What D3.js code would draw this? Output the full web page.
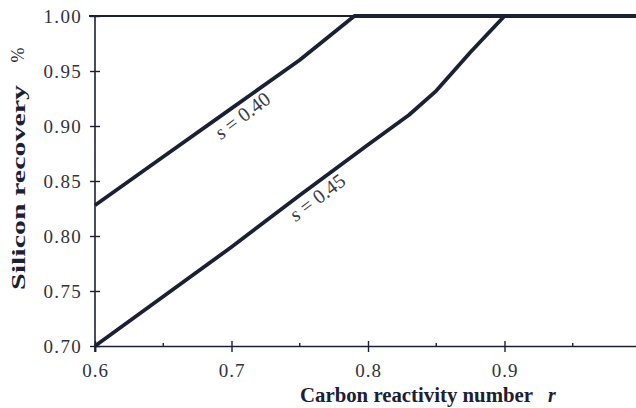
<!DOCTYPE html>
<html>
<head>
<meta charset="utf-8">
<script src="https://cdn.jsdelivr.net/npm/d3@7"></script>
<style>
  html, body { margin: 0; padding: 0; background: #fff; }
  svg { display: block; }
  svg text { font-family: "Liberation Serif", "Times New Roman", Tinos, "Nimbus Roman", Times, serif; }
</style>
</head>
<body>
<svg id="chart" width="636" height="408"></svg>
<script>
// Carbon reactivity number r
const rS40 = [0.60, 0.65, 0.70, 0.75, 0.79, 1.00];
// Silicon recovery for s = 0.40
const recS40 = [0.828, 0.872, 0.916, 0.960, 1.000, 1.000];

const rS45 = [0.60, 0.65, 0.70, 0.75, 0.80, 0.83, 0.85, 0.875, 0.90, 1.00];
// Silicon recovery for s = 0.45
const recS45 = [0.700, 0.745, 0.790, 0.837, 0.883, 0.910, 0.932, 0.967, 1.000, 1.000];

const xTicks = [0.6, 0.7, 0.8, 0.9];
const xMinorTicks = [0.65, 0.75, 0.85, 0.95];
const yTicks = [0.70, 0.75, 0.80, 0.85, 0.90, 0.95, 1.00];

const curveLabels = [
  { s: "0.40", r: 0.7026, rs: rS40, rec: recS40 },
  { s: "0.45", r: 0.7575, rs: rS45, rec: recS45 }
];

const ink = "#1c2033";
const svg = d3.select("#chart");

const x = d3.scaleLinear().domain([0.6, 1.0]).range([95, 641]);
const y = d3.scaleLinear().domain([0.70, 1.00]).range([346, 16]);

// top frame line at 100 %
svg.append("line")
  .attr("x1", x(0.6) - 6).attr("x2", 636)
  .attr("y1", y(1.0)).attr("y2", y(1.0))
  .attr("stroke", ink).attr("stroke-width", 2.2);

// x axis
const xAxis = svg.append("g")
  .attr("transform", `translate(0,${y(0.70)})`)
  .call(d3.axisBottom(x).tickValues(xTicks).tickFormat(d3.format(".1f")).tickSize(6).tickPadding(12));
xAxis.attr("font-family", null);
xAxis.select(".domain").attr("stroke", ink).attr("stroke-width", 1.6);
xAxis.selectAll(".tick line").attr("y1", -5).attr("stroke", ink).attr("stroke-width", 1.4);
xAxis.selectAll(".tick text")
  .attr("font-size", 19).attr("fill", "#30333f")
  .style("letter-spacing", "1px");

// minor ticks on x axis
svg.append("g").selectAll("line").data(xMinorTicks).join("line")
  .attr("x1", d => x(d)).attr("x2", d => x(d))
  .attr("y1", y(0.70)).attr("y2", y(0.70) - 3)
  .attr("stroke", ink).attr("stroke-width", 1.4);

// y axis
const yAxis = svg.append("g")
  .attr("transform", `translate(${x(0.6)},0)`)
  .call(d3.axisLeft(y).tickValues(yTicks).tickFormat(d3.format(".2f")).tickSize(5).tickPadding(8));
yAxis.attr("font-family", null);
yAxis.select(".domain").attr("stroke", ink).attr("stroke-width", 1.6)
  .attr("d", `M0,${y(1.0)}V${y(0.70) + 6}`);
yAxis.selectAll(".tick line").attr("x1", 5).attr("stroke", ink).attr("stroke-width", 1.4);
yAxis.selectAll(".tick text")
  .attr("font-size", 19).attr("fill", "#30333f")
  .style("letter-spacing", "1.3px");

// recovery curves
const line = d3.line().x(d => x(d[0])).y(d => y(d[1]));
[[rS40, recS40], [rS45, recS45]].forEach(([rs, rec]) => {
  svg.append("path")
    .datum(rs.map((r, i) => [r, rec[i]]))
    .attr("d", line)
    .attr("fill", "none")
    .attr("stroke", ink)
    .attr("stroke-width", 3.8)
    .attr("stroke-linejoin", "round");
});

// curve labels, set along each line
curveLabels.forEach(c => {
  const v = d3.scaleLinear().domain(c.rs).range(c.rec)(c.r);
  const t = svg.append("text")
    .attr("transform", `translate(${x(c.r)},${y(v)}) rotate(-37)`)
    .attr("dy", 19)
    .attr("text-anchor", "middle")
    .attr("font-size", 20)
    .attr("fill", "#383b4a");
  t.append("tspan").attr("font-style", "italic").text("s");
  t.append("tspan").text(" = " + c.s);
});

// axis titles
const xt = svg.append("text")
  .attr("x", 300).attr("y", 402)
  .attr("font-size", 20).attr("font-weight", "bold").attr("fill", ink);
xt.append("tspan").text("Carbon reactivity number").attr("textLength", 233).attr("lengthAdjust", "spacingAndGlyphs");
xt.append("tspan").attr("x", 548).attr("font-style", "italic").text("r");

svg.append("text")
  .attr("transform", `translate(25,${(85 + 290) / 2}) rotate(-90)`)
  .attr("text-anchor", "middle")
  .attr("font-size", 19).attr("font-weight", "bold").attr("fill", ink)
  .attr("textLength", 205).attr("lengthAdjust", "spacingAndGlyphs")
  .text("Silicon recovery");

svg.append("text")
  .attr("transform", `translate(24,55) rotate(-90)`)
  .attr("text-anchor", "middle")
  .attr("font-size", 18).attr("fill", ink)
  .text("%");
</script>
</body>
</html>
